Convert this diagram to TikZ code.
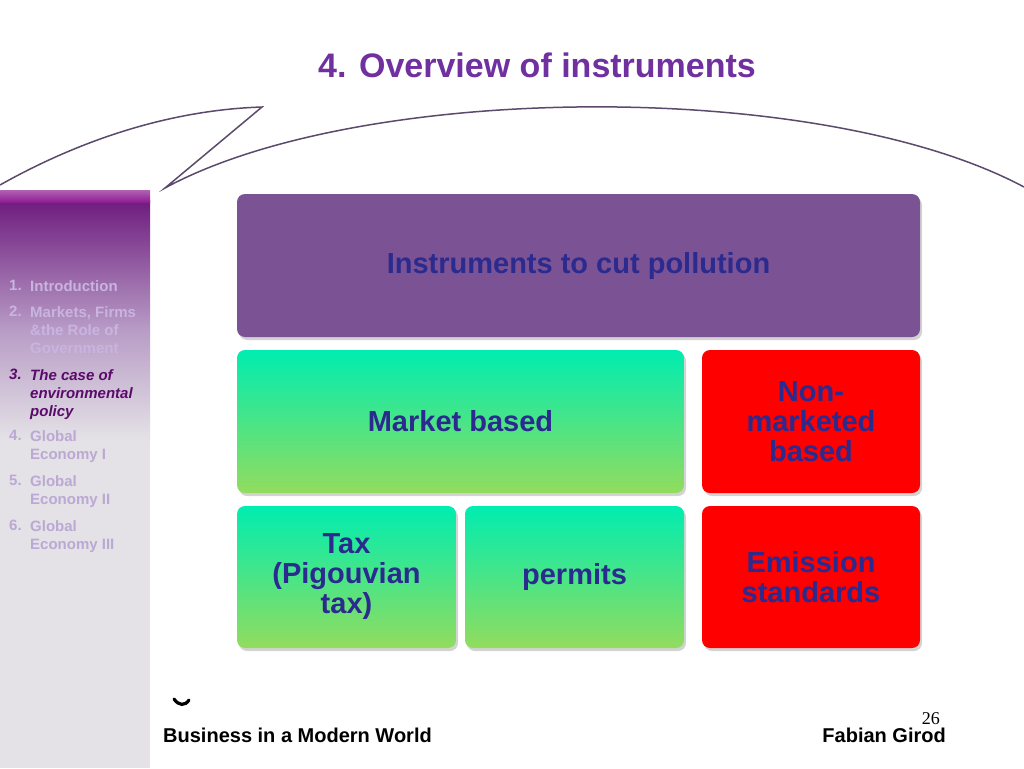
\documentclass[tikz,border=0pt]{standalone}
\usepackage{fontspec}
\setmainfont{Liberation Sans}
\newfontfamily\pagenumfont{Liberation Serif}
\usetikzlibrary{shadows}
\definecolor{titlepurple}{HTML}{7030A0}
\definecolor{curveline}{HTML}{5B4A6B}
\definecolor{boxpurple}{HTML}{7B5294}
\definecolor{boxtext}{HTML}{2B2A8F}
\definecolor{greentop}{HTML}{00EDB0}
\definecolor{greenbot}{HTML}{92DC5E}
\definecolor{redtop}{HTML}{BE3A2E}
\definecolor{sidetop}{HTML}{6E1C7E}
\definecolor{sidemid}{HTML}{B89CC6}
\definecolor{sidelow}{HTML}{E4E2E6}
\definecolor{sidebar}{HTML}{8E1E92}
\definecolor{itemlight}{HTML}{C9B4E0}
\definecolor{itemdark}{HTML}{5A0A6A}
\definecolor{itemfade}{HTML}{BBA8D4}
\pgfdeclareverticalshading{redfade}{100bp}{color(0bp)=(red); color(80bp)=(red); color(100bp)=(redtop)}
\begin{document}
\begin{tikzpicture}[x=1pt,y=-1pt,line width=0.4pt,
  box/.style={rounded corners=8pt,align=center,text=boxtext,
    font=\fontsize{29}{30}\selectfont\bfseries,
    drop shadow={shadow xshift=2pt,shadow yshift=-3pt,opacity=0.35}},
  purplebox/.style={box,fill=boxpurple},
  greenbox/.style={box,top color=greentop,bottom color=greenbot},
  redbox/.style={box,shade,shading=redfade},
  sidenum/.style={anchor=north west,inner sep=0pt,font=\fontsize{15}{18}\selectfont\bfseries},
  sideitem/.style={sidenum,align=left},
  footer/.style={anchor=base west,inner sep=0pt,font=\fontsize{20}{22}\selectfont\bfseries}]
\useasboundingbox (0,0) rectangle (1024,768);
% title
\node[text=titlepurple,font=\fontsize{34}{38}\selectfont\bfseries] (title) at (537,65) {4. Overview of instruments};
% swoosh
\draw[curveline,line width=1.5pt] (0,185) .. controls (80,140) and (170,110) .. (262,107)
  -- (165,188) .. controls (360,82) and (820,78) .. (1024,187);
% side bar
\shade[top color=sidetop,bottom color=sidemid] (0,200) rectangle (150,330);
\shade[top color=sidemid,bottom color=sidelow] (0,330) rectangle (150,440);
\fill[sidelow] (0,440) rectangle (150,768);
\shade[top color=sidebar!70!white,bottom color=sidebar] (0,190) rectangle (150,202);
\node[sidenum,text=itemlight] (n1) at (9,280) {1.};
\node[sideitem,text=itemlight] (s1) at (30,280) {Introduction};
\node[sidenum,text=itemlight] (n2) at (9,306) {2.};
\node[sideitem,text=itemlight] (s2) at (30,306) {Markets, Firms\\\&the Role of\\Government};
\node[sidenum,text=itemdark,font=\fontsize{15}{18}\selectfont\bfseries\itshape] (n3) at (9,369) {3.};
\node[sideitem,text=itemdark,font=\fontsize{15}{18}\selectfont\bfseries\itshape] (s3) at (30,369) {The case of\\environmental\\policy};
\node[sidenum,text=itemfade] (n4) at (9,430) {4.};
\node[sideitem,text=itemfade] (s4) at (30,430) {Global\\Economy I};
\node[sidenum,text=itemfade] (n5) at (9,475) {5.};
\node[sideitem,text=itemfade] (s5) at (30,475) {Global\\Economy II};
\node[sidenum,text=itemfade] (n6) at (9,520) {6.};
\node[sideitem,text=itemfade] (s6) at (30,520) {Global\\Economy III};
% boxes
\node[purplebox,minimum width=683,minimum height=143] (instr) at (578.5,265.5) {Instruments to cut pollution};
\node[greenbox,minimum width=447,minimum height=143] (market) at (460.5,421.5) {Market based};
\node[redbox,minimum width=218,minimum height=143] (nonmarket) at (811,421.5) {Non-\\marketed\\based};
\node[greenbox,minimum width=219,minimum height=142] (tax) at (346.5,577) {Tax\\(Pigouvian\\tax)};
\node[greenbox,minimum width=219,minimum height=142] (permits) at (574.5,577) {permits};
\node[redbox,minimum width=218,minimum height=142] (emission) at (811,577) {Emission\\standards};
% footer
\draw[line width=3.2pt,line cap=round] (174,699) .. controls (179,706) and (185,706) .. (189,700);
\node[footer] (course) at (163,742) {Business in a Modern World};
\node[footer,anchor=base east] (author) at (946,742) {Fabian Girod};
\node[anchor=base east,inner sep=0pt,font=\pagenumfont\fontsize{18}{18}\selectfont] (pagenum) at (940,724) {26};
\end{tikzpicture}
\end{document}
